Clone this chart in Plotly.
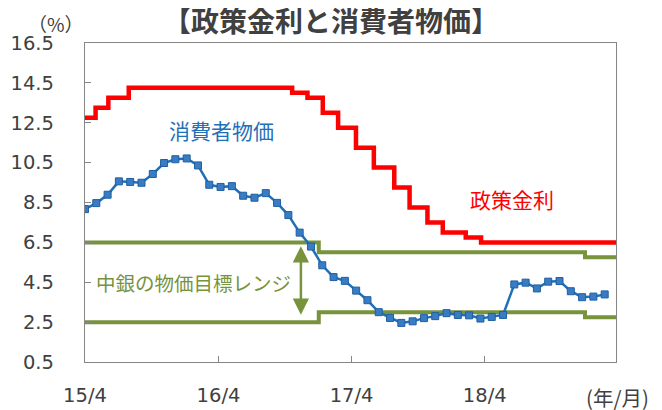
import plotly.graph_objects as go

# ---- data ----
cpi_months = [f"{y}-{m:02d}" for y, m in
              [(2015, m) for m in range(4, 13)] + [(2016, m) for m in range(1, 13)] +
              [(2017, m) for m in range(1, 13)] + [(2018, m) for m in range(1, 13)] +
              [(2019, m) for m in range(1, 4)]]
cpi_values = [8.17, 8.47, 8.89, 9.56, 9.53, 9.49, 9.93, 10.48, 10.67,
              10.71, 10.36, 9.39, 9.28, 9.32, 8.84, 8.74, 8.97, 8.48, 7.87, 6.99, 6.29,
              5.35, 4.76, 4.57, 4.08, 3.60, 3.00, 2.71, 2.46, 2.54, 2.70, 2.80, 2.95,
              2.86, 2.84, 2.68, 2.76, 2.86, 4.39, 4.48, 4.19, 4.53, 4.56, 4.05, 3.75,
              3.78, 3.89]

policy_dates = ["2015-04-01", "2015-04-30", "2015-06-04", "2015-07-30", "2016-10-20",
                "2016-12-01", "2017-01-12", "2017-02-23", "2017-04-13", "2017-06-01",
                "2017-07-27", "2017-09-07", "2017-10-26", "2017-12-07", "2018-02-08",
                "2018-03-22", "2019-03-27"]
policy_rates = [12.75, 13.25, 13.75, 14.25, 14.0, 13.75, 13.0, 12.25, 11.25, 10.25,
                9.25, 8.25, 7.5, 7.0, 6.75, 6.5, 6.5]

target_dates = ["2015-04-01", "2017-01-01", "2019-01-01", "2019-03-27"]
target_upper = [6.5, 6.0, 5.75, 5.75]
target_lower = [2.5, 3.0, 2.75, 2.75]

x_tickvals = ["2015-04-01", "2016-04-01", "2017-04-01", "2018-04-01"]
x_ticktext = ["15/4", "16/4", "17/4", "18/4"]
y_tickvals = [0.5, 2.5, 4.5, 6.5, 8.5, 10.5, 12.5, 14.5, 16.5]

# ---- styles ----
GREEN = "#77933C"
RED = "#FF0000"
BLUE = "#1F70B8"
TXT = "#404040"
AX = "#868686"
JP = "Noto Sans CJK JP"
NUM = "DejaVu Sans"

# the page body adds an 8px offset; figure is sized to fill the rest
OFF = 8
W, H = 662 - OFF, 410 - OFF

fig = go.Figure()
fig.add_trace(go.Scatter(x=target_dates, y=target_upper, mode="lines",
                         line=dict(color=GREEN, width=4, shape="hv"), hoverinfo="skip"))
fig.add_trace(go.Scatter(x=target_dates, y=target_lower, mode="lines",
                         line=dict(color=GREEN, width=4, shape="hv"), hoverinfo="skip"))
fig.add_trace(go.Scatter(x=policy_dates, y=policy_rates, mode="lines",
                         line=dict(color=RED, width=4.5, shape="hv"), hoverinfo="skip"))
fig.add_trace(go.Scatter(x=cpi_months[:len(cpi_values)], y=cpi_values, xaxis="x2",
                         mode="lines+markers",
                         line=dict(color=BLUE, width=2.5),
                         marker=dict(symbol="square", size=7, color="#3A7CC4",
                                     line=dict(color="#1F5FA0", width=1)),
                         hoverinfo="skip"))

fig.update_layout(
    width=W, height=H,
    margin=dict(l=85 - OFF, r=46, t=43 - OFF, b=48),
    paper_bgcolor="white", plot_bgcolor="white",
    showlegend=False,
    title=dict(text="【政策金利と消費者物価】", xref="container",
               x=(331 - OFF) / W, xanchor="center",
               yref="container", y=1 - (22.5 - OFF) / H, yanchor="middle",
               font=dict(family=JP, size=28, color=TXT, weight="bold")),
    xaxis=dict(type="date", range=["2015-04-01", "2019-03-27"],
               tickvals=x_tickvals, ticktext=x_ticktext,
               ticks="inside", ticklen=6, tickcolor=AX, tickwidth=1,
               showline=True, linecolor=AX, linewidth=1.3, mirror=True,
               showgrid=False, zeroline=False, automargin=False,
               tickfont=dict(family=NUM, size=19.5, color=TXT),
               ticklabelstandoff=15),
    xaxis2=dict(type="category", categoryarray=cpi_months, categoryorder="array",
                range=[0, 47], overlaying="x", visible=False),
    yaxis=dict(range=[0.5, 16.5], tickvals=y_tickvals,
               ticktext=[f"{v:.1f}" for v in y_tickvals],
               ticks="inside", ticklen=6, tickcolor=AX, tickwidth=1,
               showline=True, linecolor=AX, linewidth=1.3, mirror=True,
               showgrid=False, zeroline=False, automargin=False,
               tickfont=dict(family=NUM, size=19.5, color=TXT),
               ticklabelstandoff=26),
    annotations=[
        dict(text="（%）", xref="paper", yref="paper", x=-0.0546, y=1.062,
             xanchor="center", yanchor="middle", showarrow=False,
             font=dict(family=JP, size=19, color=TXT)),
        dict(text="(年/月)", xref="paper", yref="paper", x=1.003, y=-0.11,
             xanchor="center", yanchor="middle", showarrow=False,
             font=dict(family=JP, size=20.5, color=TXT)),
        dict(text="消費者物価", xref="paper", yref="paper", x=0.258, y=0.727,
             xanchor="center", yanchor="middle", showarrow=False,
             font=dict(family=JP, size=21, color=BLUE)),
        dict(text="政策金利", xref="paper", yref="paper", x=0.804, y=0.51,
             xanchor="center", yanchor="middle", showarrow=False,
             font=dict(family=JP, size=21, color=RED)),
        dict(text="中銀の物価目標レンジ", xref="paper", yref="paper", x=0.205, y=0.25,
             xanchor="center", yanchor="middle", showarrow=False,
             font=dict(family=JP, size=19.5, color=GREEN)),
        dict(text="", xref="x", yref="y", x="2016-11-13", y=6.31,
             axref="x", ayref="y", ax="2016-11-13", ay=2.79,
             showarrow=True, arrowside="end+start", arrowhead=2, arrowsize=1.3,
             arrowwidth=2.5, arrowcolor=GREEN, standoff=0, startstandoff=0),
    ],
)

fig.write_html("out.html")
